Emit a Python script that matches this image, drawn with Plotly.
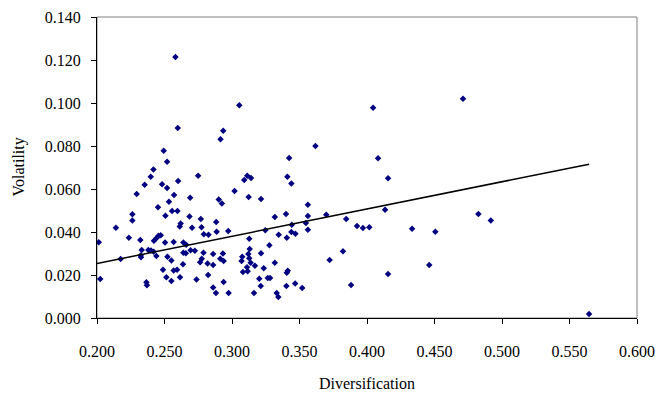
import numpy as np
import plotly.graph_objects as go

diversification = [
    0.2598, 0.2494, 0.2519, 0.2418, 0.2398, 0.2601, 0.2749, 0.2353, 0.2482, 0.2519,
    0.2294, 0.2571, 0.2690, 0.2581, 0.2533, 0.2452, 0.2262, 0.2262, 0.2507, 0.2556,
    0.2596, 0.2685, 0.2769, 0.2620, 0.2613, 0.2704, 0.2774, 0.2140, 0.2791, 0.2826,
    0.2236, 0.2321, 0.2422, 0.2440, 0.2455, 0.2472, 0.2504, 0.2568, 0.2640, 0.2660,
    0.2013, 0.2331, 0.2323, 0.2326, 0.2380, 0.2400, 0.2420, 0.2440, 0.2522, 0.2551,
    0.2640, 0.2658, 0.2693, 0.2725, 0.2789, 0.2764, 0.2776, 0.2819, 0.2860, 0.2860,
    0.2175, 0.2637, 0.2489, 0.2568, 0.2593, 0.2514, 0.2551, 0.2615, 0.2737, 0.2823,
    0.2024, 0.2366, 0.2370, 0.2860, 0.2881,
    0.3054, 0.2935, 0.2915, 0.3618, 0.3423, 0.3410, 0.3440, 0.3113, 0.3091, 0.3141,
    0.3019, 0.2902, 0.2925, 0.3123, 0.3215, 0.3562,
    0.2883, 0.2886, 0.2972, 0.3317, 0.3400, 0.3562, 0.3247, 0.3346, 0.3443, 0.3440,
    0.3470, 0.3547, 0.3562, 0.3406, 0.3128, 0.3277, 0.3131, 0.3215, 0.2933, 0.2913,
    0.2938, 0.3076, 0.3071, 0.3121, 0.3128, 0.3138, 0.3170, 0.3111, 0.3081, 0.3116,
    0.3235, 0.3317, 0.3413, 0.3406, 0.3202, 0.3265, 0.3282, 0.2938, 0.3213, 0.3403,
    0.3468, 0.3520, 0.2975, 0.3163, 0.3331, 0.3343, 0.3723, 0.3698,
    0.4045, 0.4082, 0.4156, 0.4134, 0.3846, 0.3926, 0.3970, 0.4017, 0.4334, 0.4506,
    0.3822, 0.4156, 0.4461, 0.3882, 0.4711, 0.4825, 0.4917, 0.5645,
]

volatility = [
    0.0884, 0.0778, 0.0727, 0.0691, 0.0657, 0.0637, 0.0662, 0.0620, 0.0622, 0.0605,
    0.0577, 0.0572, 0.0559, 0.1214, 0.0541, 0.0515, 0.0482, 0.0454, 0.0476, 0.0498,
    0.0498, 0.0472, 0.0461, 0.0439, 0.0426, 0.0420, 0.0422, 0.0420, 0.0389, 0.0387,
    0.0373, 0.0363, 0.0359, 0.0371, 0.0383, 0.0385, 0.0351, 0.0354, 0.0351, 0.0341,
    0.0352, 0.0316, 0.0291, 0.0283, 0.0316, 0.0314, 0.0308, 0.0288, 0.0285, 0.0268,
    0.0304, 0.0301, 0.0315, 0.0313, 0.0304, 0.0259, 0.0276, 0.0254, 0.0298, 0.0246,
    0.0274, 0.0250, 0.0225, 0.0221, 0.0224, 0.0189, 0.0172, 0.0190, 0.0179, 0.0200,
    0.0181, 0.0166, 0.0152, 0.0142, 0.0116,
    0.0989, 0.0871, 0.0831, 0.0800, 0.0744, 0.0657, 0.0626, 0.0662, 0.0642, 0.0651,
    0.0591, 0.0551, 0.0532, 0.0563, 0.0553, 0.0527,
    0.0446, 0.0401, 0.0405, 0.0470, 0.0484, 0.0475, 0.0408, 0.0387, 0.0434, 0.0400,
    0.0392, 0.0442, 0.0411, 0.0373, 0.0369, 0.0338, 0.0321, 0.0301, 0.0300, 0.0276,
    0.0265, 0.0285, 0.0265, 0.0298, 0.0278, 0.0257, 0.0243, 0.0236, 0.0214, 0.0217,
    0.0231, 0.0257, 0.0220, 0.0211, 0.0183, 0.0186, 0.0186, 0.0167, 0.0149, 0.0149,
    0.0160, 0.0140, 0.0116, 0.0116, 0.0116, 0.0098, 0.0270, 0.0480,
    0.0978, 0.0743, 0.0650, 0.0503, 0.0460, 0.0428, 0.0419, 0.0422, 0.0415, 0.0401,
    0.0310, 0.0205, 0.0246, 0.0153, 0.1020, 0.0484, 0.0454, 0.0019,
]

x_ticks = [0.20, 0.25, 0.30, 0.35, 0.40, 0.45, 0.50, 0.55, 0.60]
y_ticks = [0.00, 0.02, 0.04, 0.06, 0.08, 0.10, 0.12, 0.14]
x_title = "Diversification"
y_title = "Volatility"

# Linear trendline with intercept fixed at zero (least squares through origin)
xa = np.array(diversification)
ya = np.array(volatility)
slope = float(np.sum(xa * ya) / np.sum(xa * xa))
trend_x = np.array([0.2, xa.max()])
trend_y = slope * trend_x

FONT = "Liberation Serif, Times New Roman, serif"

fig = go.Figure()
fig.add_trace(go.Scatter(
    x=diversification, y=volatility, mode="markers",
    marker=dict(symbol="diamond", size=5, color="#000080", line=dict(width=0)),
    showlegend=False, hoverinfo="x+y",
))
fig.add_trace(go.Scatter(
    x=trend_x, y=trend_y, mode="lines",
    line=dict(color="black", width=1.5), showlegend=False, hoverinfo="skip",
))

fig.add_shape(type="rect", xref="paper", yref="paper", x0=0, y0=0, x1=1, y1=1,
              line=dict(color="#808080", width=1), layer="below")

fig.add_annotation(text=x_title, xref="paper", yref="paper", x=0.5, y=0,
                   xanchor="center", yanchor="middle", yshift=-65, showarrow=False,
                   font=dict(family=FONT, size=16, color="black"))
fig.add_annotation(text=y_title, xref="paper", yref="paper", x=0, y=0.5,
                   xanchor="center", yanchor="middle", xshift=-79, textangle=-90,
                   showarrow=False, font=dict(family=FONT, size=16, color="black"))

# page body has an 8px default margin, so the figure is sized to fit inside the window
fig.update_layout(
    width=647, height=383,
    margin=dict(l=89, r=18, t=9, b=73),
    paper_bgcolor="white", plot_bgcolor="white",
    font=dict(family=FONT, size=16, color="black"),
    xaxis=dict(
        range=[0.2, 0.6], tickvals=x_ticks, tickformat=".3f", automargin=False,
        showgrid=False, zeroline=False, showline=True, linecolor="black", linewidth=1,
        ticks="outside", ticklen=5, tickcolor="black",
        ticklabelstandoff=14,
    ),
    yaxis=dict(
        range=[0, 0.14], tickvals=y_ticks, tickformat=".3f", automargin=False,
        showgrid=False, zeroline=False, showline=True, linecolor="black", linewidth=1,
        ticks="outside", ticklen=5, tickcolor="black",
        ticklabelstandoff=7,
    ),
)

fig.write_html("out.html")
